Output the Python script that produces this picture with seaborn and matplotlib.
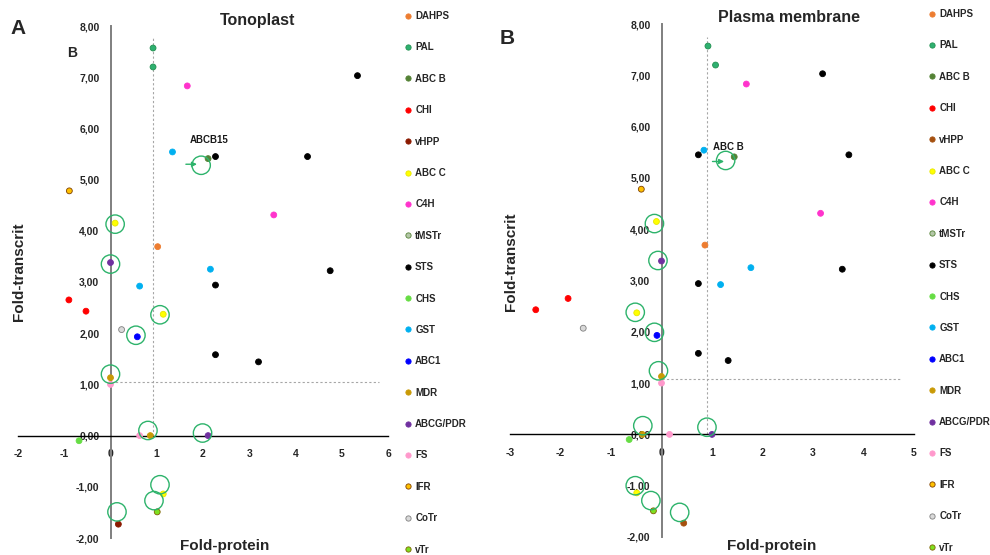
import matplotlib
matplotlib.use("Agg")
import matplotlib.pyplot as plt
import seaborn as sns
import pandas as pd
from matplotlib.lines import Line2D

# ---------------- data ----------------
genes = ["PAL", "PAL", "C4H", "STS", "GST", "ABC B", "STS", "STS", "IFR", "C4H",
         "ABC C", "DAHPS", "ABCG/PDR", "GST", "STS", "GST", "STS", "CHI", "CHI",
         "ABC C", "CoTr", "ABC1", "STS", "STS", "MDR", "FS", "FS", "MDR",
         "ABCG/PDR", "CHS", "ABC C", "vTr", "vHPP"]
transcript = [7.57, 7.20, 6.83, 7.03, 5.54, 5.41, 5.45, 5.45, 4.78, 4.31,
              4.15, 3.69, 3.38, 3.25, 3.22, 2.92, 2.94, 2.65, 2.43,
              2.37, 2.07, 1.93, 1.58, 1.44, 1.13, 1.00, 0.00, 0.00,
              0.00, -0.10, -1.14, -1.49, -1.73]
protein_tonoplast = [0.92, 0.92, 1.66, 5.34, 1.34, 2.11, 2.27, 4.26, -0.89, 3.53,
                     0.10, 1.02, 0.00, 2.16, 4.75, 0.63, 2.27, -0.90, -0.53,
                     1.14, 0.24, 0.58, 2.27, 3.20, 0.00, 0.00, 0.63, 0.86,
                     2.11, -0.68, 1.14, 1.01, 0.17]
protein_pm = [0.92, 1.07, 1.68, 3.19, 0.84, 1.44, 0.73, 3.71, -0.40, 3.15,
              -0.10, 0.86, 0.00, 1.77, 3.58, 1.17, 0.73, -1.85, -2.49,
              -0.49, -1.55, -0.09, 0.73, 1.32, 0.00, 0.00, 0.16, -0.38,
              1.00, -0.64, -0.49, -0.16, 0.44]

# highlight circles
circ_x_tonoplast = [0.10, 0.00, 1.96, 1.07, 0.55, 0.00, 0.81, 1.99, 1.07, 0.94, 0.14]
circ_y_tonoplast = [4.13, 3.35, 5.28, 2.36, 1.96, 1.20, 0.10, 0.05, -0.96, -1.27, -1.49]
circ_x_pm = [-0.14, -0.07, 1.27, -0.52, -0.14, -0.06, -0.37, 0.90, -0.52, -0.21, 0.36]
circ_y_pm = [4.11, 3.39, 5.34, 2.38, 1.99, 1.24, 0.17, 0.14, -1.00, -1.29, -1.52]

legend_order = ["DAHPS", "PAL", "ABC B", "CHI", "vHPP", "ABC C", "C4H", "tMSTr",
                "STS", "CHS", "GST", "ABC1", "MDR", "ABCG/PDR", "FS", "IFR",
                "CoTr", "vTr"]

x_ticks_tonoplast = [-2, -1, 0, 1, 2, 3, 4, 5, 6]
x_ticks_pm = [-3, -2, -1, 0, 1, 2, 3, 4, 5]
y_ticks = [-2, -1, 0, 1, 2, 3, 4, 5, 6, 7, 8]

# reference (dashed) lines: (x threshold, y top), (y threshold, x right end)
thr_tonoplast = dict(vx=0.92, vtop=7.80, hy=1.04, hright=5.80)
thr_pm = dict(vx=0.90, vtop=7.74, hy=1.08, hright=4.75)

# annotation: label text, label position, arrow start x, arrow end x, arrow y
ann_tonoplast = dict(text="ABCB15", tx=2.13, ty=5.78, x0=1.63, x1=1.87, y=5.30)
ann_pm = dict(text="ABC B", tx=1.32, ty=5.61, x0=1.01, x1=1.24, y=5.32)

# ---------------- style ----------------
fill = {"DAHPS": "#ED7D31", "PAL": "#2EB070", "ABC B": "#548235", "CHI": "#FF0000",
        "vHPP": "#8B1A00", "ABC C": "#FFFF00", "C4H": "#FF33CC", "tMSTr": "#B4C7A8",
        "STS": "#000000", "CHS": "#66DD44", "GST": "#00B0F0", "ABC1": "#0000FF",
        "MDR": "#C99A06", "ABCG/PDR": "#7030A0", "FS": "#FF99CC", "IFR": "#FFC000",
        "CoTr": "#D9D9D9", "vTr": "#7EE020"}
edge = dict(fill)
edge.update({"PAL": "#229050", "tMSTr": "#548235", "IFR": "#7F3F00",
             "CoTr": "#7F7F7F", "vTr": "#7F6000", "ABC C": "#E6E600"})
vhpp_pm = "#A5500F"
circle_color = "#2DB36B"

sns.set_style("white")
plt.rcParams["font.family"] = ["Liberation Sans", "DejaVu Sans"]
plt.rcParams["font.weight"] = "bold"

W, H = 990, 555
fig = plt.figure(figsize=(W / 100, H / 100), dpi=100)


def fx(p):
    return p / W


def fy(p):
    return 1 - p / H


def add_ax(l, t, r, b):
    return fig.add_axes([fx(l), fy(b), (r - l) / W, (b - t) / H])


panels = [
    dict(box=(18, 26, 388, 538), prot=protein_tonoplast, xt=x_ticks_tonoplast,
         circ=(circ_x_tonoplast, circ_y_tonoplast), thr=thr_tonoplast,
         ann=ann_tonoplast, vhpp=fill["vHPP"], legx=404, legy=11),
    dict(box=(510, 24, 914, 537), prot=protein_pm, xt=x_ticks_pm,
         circ=(circ_x_pm, circ_y_pm), thr=thr_pm, ann=ann_pm, vhpp=vhpp_pm,
         legx=928, legy=9),
]

for p in panels:
    ax = add_ax(*p["box"])
    ax.patch.set_alpha(0)
    fcol = dict(fill)
    ecol = dict(edge)
    fcol["vHPP"] = p["vhpp"]
    ecol["vHPP"] = p["vhpp"]
    df = pd.DataFrame({"gene": genes, "protein": p["prot"], "transcript": transcript})
    th = p["thr"]
    ax.vlines(th["vx"], 0, th["vtop"], colors="#A6A6A6", linestyles=(0, (2, 2)),
              linewidth=0.8, zorder=1)
    ax.hlines(th["hy"], 0, th["hright"], colors="#A6A6A6", linestyles=(0, (2, 2)),
              linewidth=0.8, zorder=1)
    sns.scatterplot(data=df, x="protein", y="transcript", hue="gene",
                    palette=fcol, s=18, linewidth=0.6, legend=False, ax=ax,
                    zorder=4)
    coll = ax.collections[-1]
    coll.set_edgecolors([ecol[g] for g in df["gene"]])
    ax.scatter(p["circ"][0], p["circ"][1], s=175, facecolors="none",
               edgecolors=circle_color, linewidths=1.0, zorder=5)
    a = p["ann"]
    ax.annotate("", xy=(a["x1"], a["y"]), xytext=(a["x0"], a["y"]),
                arrowprops=dict(arrowstyle="-|>", color=circle_color, lw=1.0,
                                mutation_scale=7, shrinkA=0, shrinkB=0), zorder=6)
    ax.text(a["tx"], a["ty"], a["text"], ha="center", va="center", fontsize=7,
            fontweight="bold", color="#1a1a1a")

    ax.set_xlim(p["xt"][0], p["xt"][-1])
    ax.set_ylim(y_ticks[0], y_ticks[-1])
    ax.spines["left"].set_position(("data", 0))
    ax.spines["bottom"].set_position(("data", 0))
    ax.spines["top"].set_visible(False)
    ax.spines["right"].set_visible(False)
    ax.spines["left"].set_color("#7F7F7F")
    ax.spines["left"].set_linewidth(1.4)
    ax.spines["bottom"].set_color("#000000")
    ax.spines["bottom"].set_linewidth(1.0)
    ax.set_xticks(p["xt"])
    ax.set_xticklabels([str(v) for v in p["xt"]], fontsize=7.5, fontweight="bold",
                       color="#262626")
    ax.set_yticks(y_ticks)
    ax.set_yticklabels([f"{v:.2f}".replace(".", ",") for v in y_ticks],
                       fontsize=7.5, fontweight="bold", color="#262626")
    ax.tick_params(length=0)
    ax.tick_params(axis="y", pad=8)
    ax.tick_params(axis="x", pad=10)
    ax.set_xlabel("")
    ax.set_ylabel("")
    ax.grid(False)

    handles = [Line2D([0], [0], marker="o", linestyle="none", markersize=3.8,
                      markerfacecolor=fcol[g], markeredgecolor=ecol[g],
                      markeredgewidth=0.6) for g in legend_order]
    fig.legend(handles, legend_order, loc="upper left",
               bbox_to_anchor=(fx(p["legx"]), fy(p["legy"])), frameon=False,
               fontsize=7, labelspacing=2.2, handlelength=0.8, handletextpad=0.35,
               borderpad=0, borderaxespad=0)

# titles and labels
fig.text(fx(258), fy(21), "Tonoplast", ha="center", va="center", fontsize=11.5,
         fontweight="bold")
fig.text(fx(789), fy(18), "Plasma membrane", ha="center", va="center",
         fontsize=11.5, fontweight="bold")
fig.text(fx(225), fy(546), "Fold-protein", ha="center", va="center", fontsize=11,
         fontweight="bold")
fig.text(fx(772), fy(546), "Fold-protein", ha="center", va="center", fontsize=11,
         fontweight="bold")
fig.text(fx(19), fy(272), "Fold-transcrit", ha="center", va="center", rotation=90,
         fontsize=11, fontweight="bold")
fig.text(fx(511), fy(262), "Fold-transcrit", ha="center", va="center",
         rotation=90, fontsize=11, fontweight="bold")
fig.text(fx(18), fy(29), "A", ha="center", va="center", fontsize=15,
         fontweight="bold")
fig.text(fx(507), fy(39), "B", ha="center", va="center", fontsize=15,
         fontweight="bold")
fig.text(fx(72), fy(53), "B", ha="center", va="center", fontsize=10,
         fontweight="bold")

fig.savefig("out.png", dpi=100)
